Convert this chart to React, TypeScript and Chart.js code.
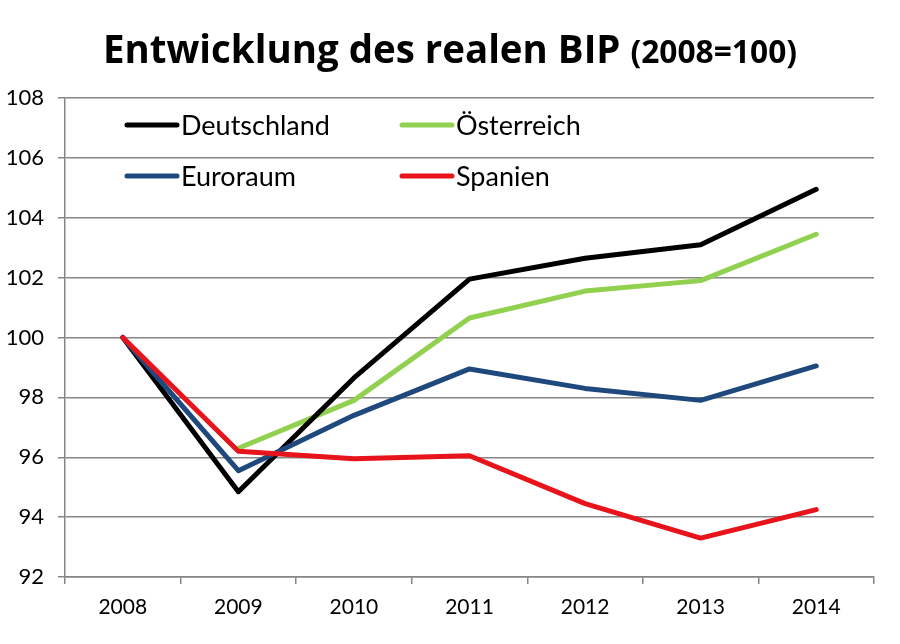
import React, { useEffect, useRef } from "react";
import { Chart, registerables } from "chart.js";

Chart.register(...registerables);

const years = ["2008", "2009", "2010", "2011", "2012", "2013", "2014"];
const deutschland = [100, 94.85, 98.65, 101.95, 102.65, 103.1, 104.95];
const oesterreich = [null, 96.3, 97.9, 100.65, 101.55, 101.9, 103.45];
const euroraum = [100, 95.55, 97.4, 98.95, 98.3, 97.9, 99.05];
const spanien = [100, 96.2, 95.95, 96.05, 94.45, 93.3, 94.25];

const titleMain = "Entwicklung des realen BIP ";
const titleSub = "(2008=100)";
const FONT = "Lato, 'Open Sans', sans-serif";
const TITLE_FONT = "'Open Sans', Lato, sans-serif";

const legendItems = [
  { label: "Deutschland", color: "#000000", col: 0, row: 0 },
  { label: "Österreich", color: "#92D050", col: 1, row: 0 },
  { label: "Euroraum", color: "#1F497D", col: 0, row: 1 },
  { label: "Spanien", color: "#E8141B", col: 1, row: 1 },
];

const titlePlugin = {
  id: "customTitle",
  afterDraw(chart: any) {
    const ctx = chart.ctx;
    ctx.save();
    ctx.fillStyle = "#000";
    ctx.textBaseline = "alphabetic";
    const f1 = `bold 40px ${TITLE_FONT}`;
    const f2 = `bold 33px ${TITLE_FONT}`;
    ctx.font = f1;
    const w1 = ctx.measureText(titleMain).width;
    ctx.font = f2;
    const w2 = ctx.measureText(titleSub).width;
    const target = 694;
    const sx = target / (w1 + w2);
    const x0 = 450 - target / 2;
    const y = 63;
    ctx.translate(x0, y);
    ctx.scale(sx, 1);
    ctx.textAlign = "left";
    ctx.font = f1;
    ctx.fillText(titleMain, 0, 0);
    ctx.font = f2;
    ctx.fillText(titleSub, w1, 0);
    ctx.restore();
  },
};

const legendPlugin = {
  id: "insideLegend",
  afterDraw(chart: any) {
    const ctx = chart.ctx;
    const area = chart.chartArea;
    ctx.save();
    ctx.font = `27px ${FONT}`;
    ctx.textBaseline = "middle";
    ctx.textAlign = "left";
    legendItems.forEach((it) => {
      const lx = area.left + 62 + it.col * 275;
      const ly = area.top + 27 + it.row * 51;
      ctx.strokeStyle = it.color;
      ctx.lineWidth = 5;
      ctx.lineCap = "round";
      ctx.beginPath();
      ctx.moveTo(lx, ly);
      ctx.lineTo(lx + 50, ly);
      ctx.stroke();
      ctx.fillStyle = "#000";
      ctx.fillText(it.label, lx + 54, ly + 1);
    });
    ctx.restore();
  },
};

export default function App() {
  const ref = useRef<HTMLCanvasElement | null>(null);
  useEffect(() => {
    if (!ref.current) return;
    const mk = (label: string, data: (number | null)[], color: string, order: number) => ({
      label,
      data,
      borderColor: color,
      backgroundColor: color,
      borderWidth: 5,
      pointRadius: 0,
      tension: 0,
      order,
      spanGaps: false,
      borderJoinStyle: "round" as const,
      borderCapStyle: "round" as const,
    });
    const chart = new Chart(ref.current, {
      type: "line",
      data: {
        labels: years,
        datasets: [
          mk("Deutschland", deutschland, "#000000", 3),
          mk("Österreich", oesterreich, "#92D050", 4),
          mk("Euroraum", euroraum, "#1F497D", 2),
          mk("Spanien", spanien, "#E8141B", 1),
        ],
      },
      options: {
        animation: false,
        responsive: false,
        maintainAspectRatio: false,
        layout: { padding: { top: 98, right: 26, left: 0, bottom: 0 } },
        plugins: {
          legend: { display: false },
          title: { display: false },
          tooltip: { enabled: false },
        },
        scales: {
          x: {
            offset: true,
            grid: {
              offset: true,
              drawOnChartArea: false,
              drawTicks: true,
              tickLength: 7,
              color: "#868686",
              lineWidth: 1.5,
            },
            border: { color: "#868686", width: 1.5 },
            ticks: {
              color: "#000",
              font: { family: FONT, size: 21 },
              padding: 11,
              maxRotation: 0,
            },
            afterFit(s: any) {
              s.height = 67;
            },
          },
          y: {
            min: 92,
            max: 108,
            ticks: {
              stepSize: 2,
              color: "#000",
              font: { family: FONT, size: 22 },
              padding: 14,
            },
            grid: {
              color: "#868686",
              lineWidth: 1.5,
              tickLength: 7,
            },
            border: { color: "#868686", width: 1.5 },
            afterFit(s: any) {
              s.width = 65;
            },
          },
        },
      },
      plugins: [titlePlugin, legendPlugin],
    });
    return () => chart.destroy();
  }, []);
  return (
    <div style={{ position: "fixed", left: 0, top: 0, width: 900, height: 644, background: "#fff" }}>
      <canvas ref={ref} width={900} height={644} style={{ width: 900, height: 644 }} />
    </div>
  );
}
